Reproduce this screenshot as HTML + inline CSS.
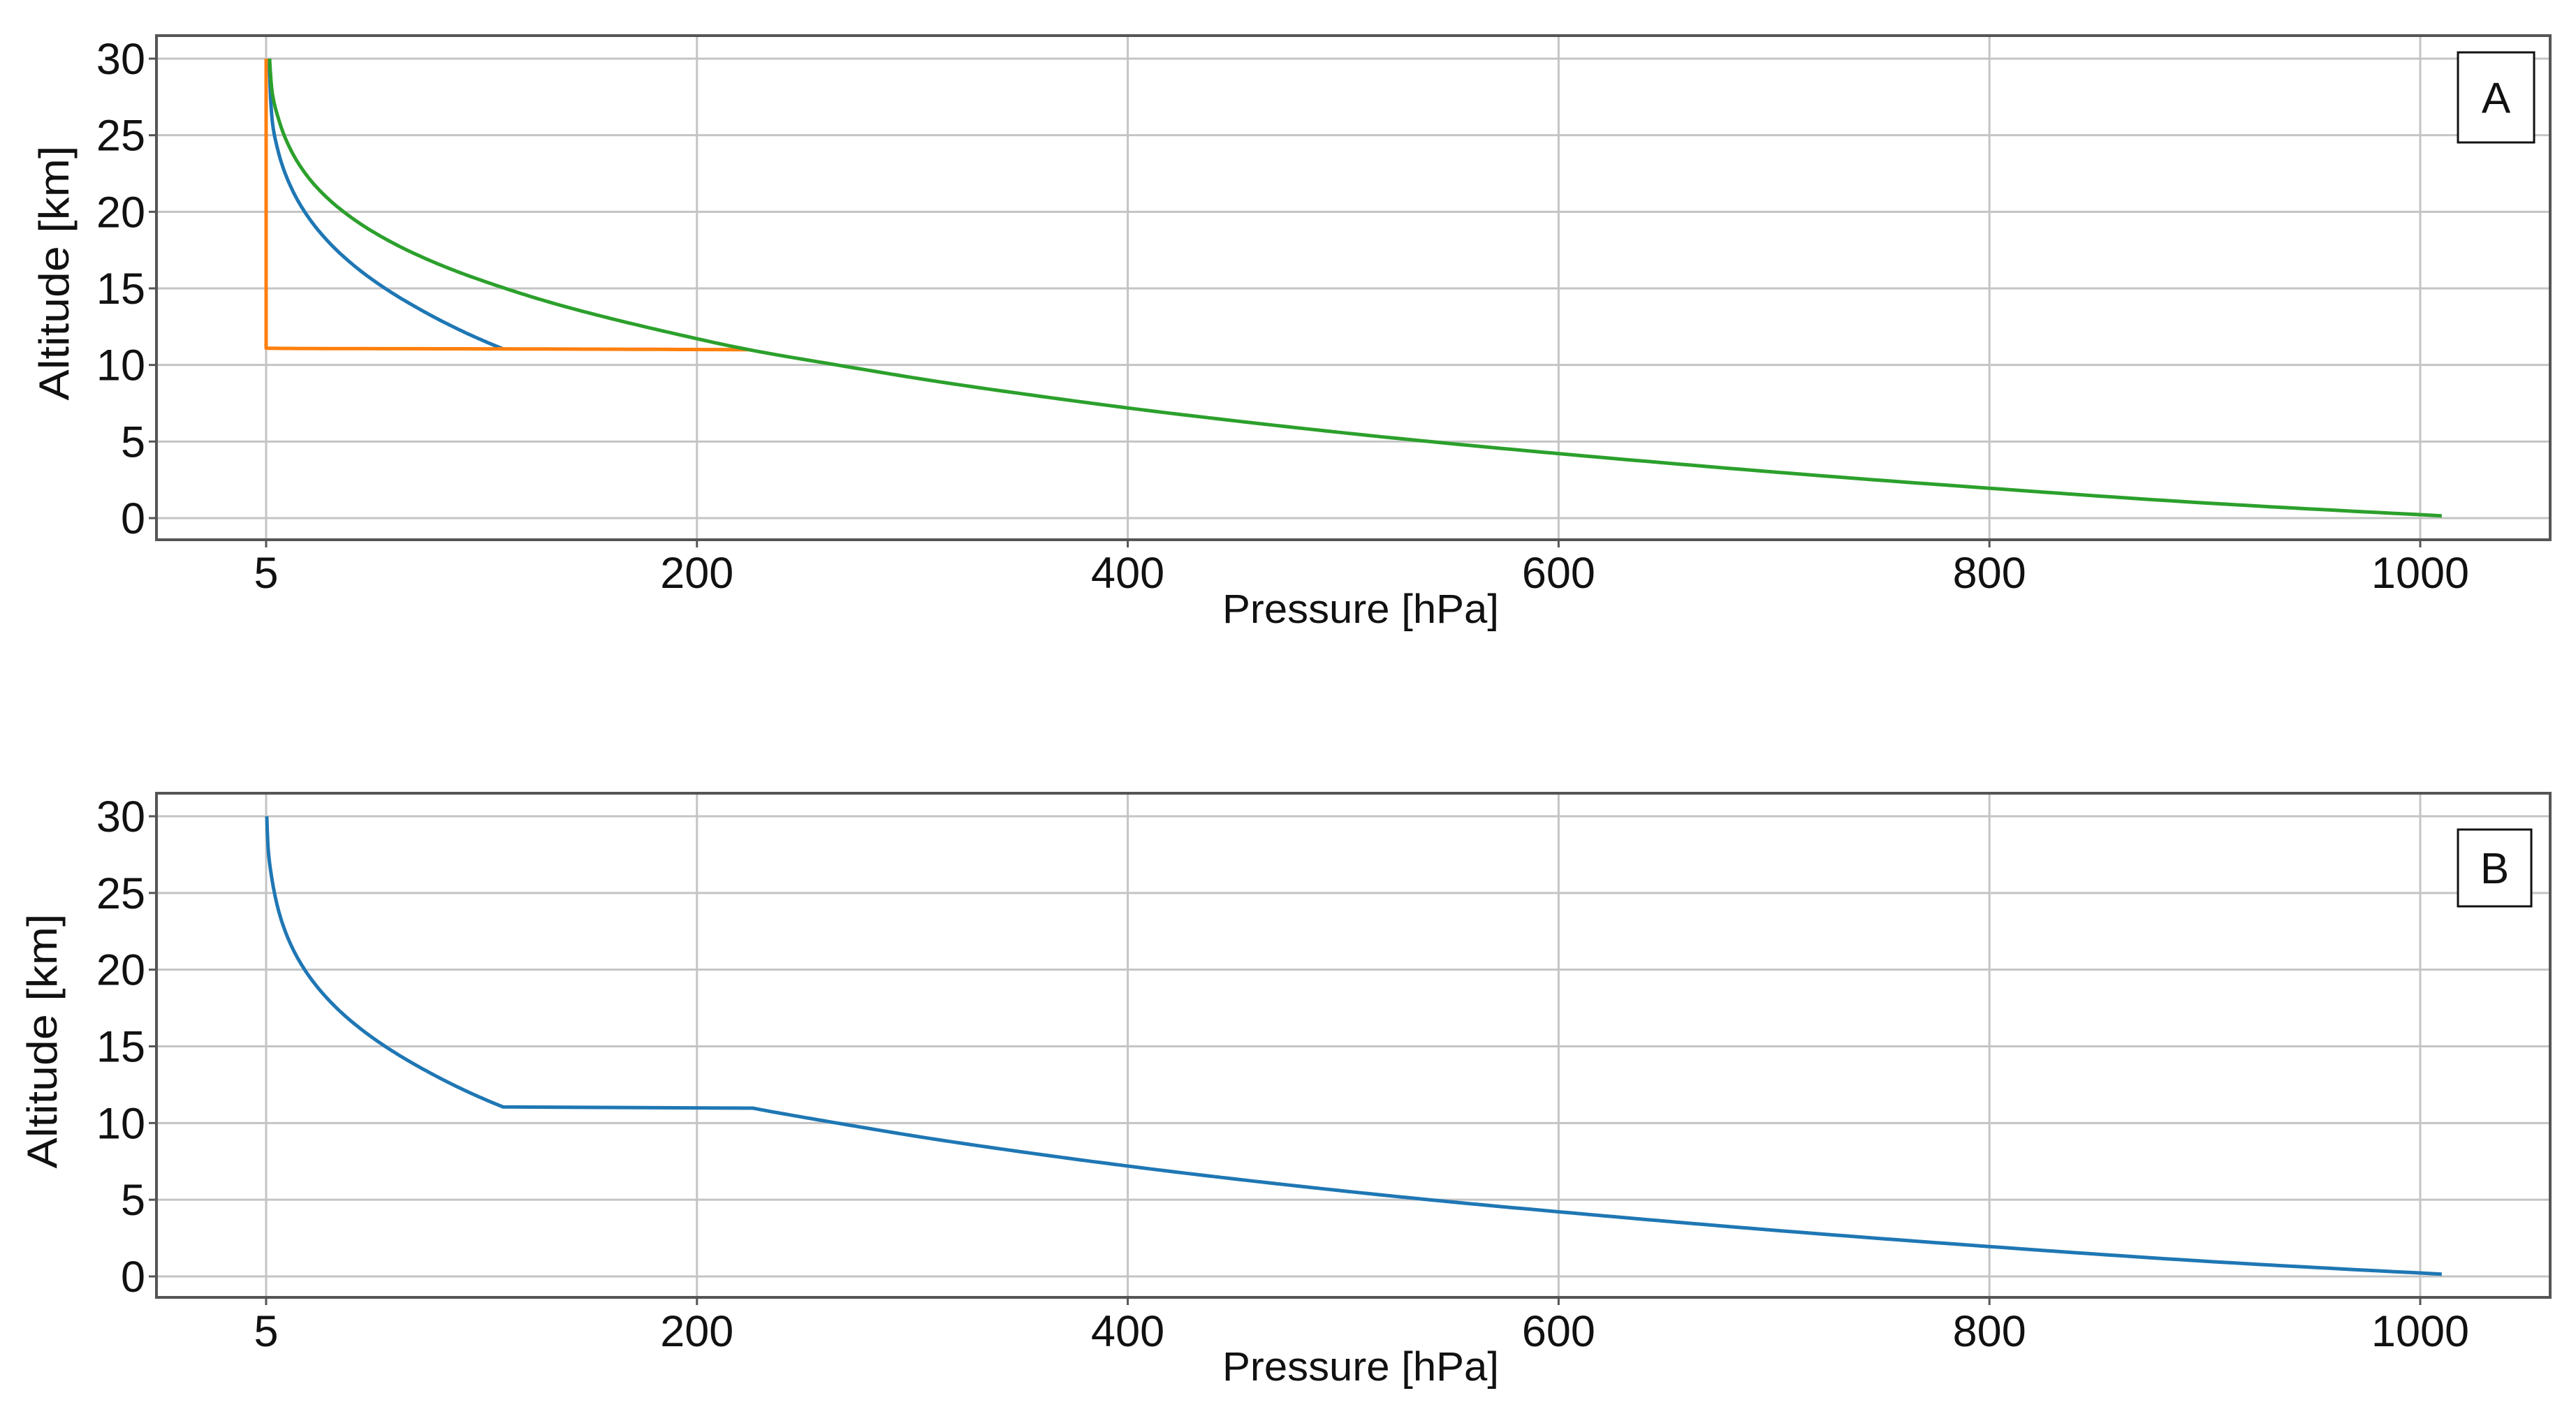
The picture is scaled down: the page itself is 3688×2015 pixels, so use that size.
<!DOCTYPE html>
<html><head><meta charset="utf-8">
<style>
html,body{margin:0;padding:0;background:#fff;}
svg{display:block;}
text{font-family:"Liberation Sans",sans-serif;fill:#111;}
</style></head>
<body>
<svg id="fig" width="3688" height="2015" viewBox="0 0 3688 2015" xmlns="http://www.w3.org/2000/svg"></svg>
<script>
// ---- data ----
const xTickValues = [0, 200, 400, 600, 800, 1000];
const xTickLabels = ["5", "200", "400", "600", "800", "1000"];
const yTickValues = [0, 5, 10, 15, 20, 25, 30];
const yTickLabels = ["0", "5", "10", "15", "20", "25", "30"];

// panel A series: pressure [hPa] and altitude [km]
const greenP = [1.6, 2.65, 5.9, 11.6, 21, 36, 58.4, 90.6, 111, 134, 161, 191, 224, 265, 308, 357, 411, 472, 540, 617, 701, 795, 899, 1010];
const greenZ = [30, 28, 26, 24, 22, 20, 18, 16, 15, 14, 13, 12, 11, 10, 9, 8, 7, 6, 5, 4, 3, 2, 1, 0.15];
const blueAP = [1.5, 1.9, 2.8, 5.5, 10.3, 17.9, 29.2, 45.2, 66.8, 79.7, 94.2, 110];
const blueAZ = [30, 28, 26, 24, 22, 20, 18, 16, 14, 13, 12, 11.05];
const orangeP = [0, 0, 110, 224];
const orangeZ = [30, 11.1, 11.05, 11.0];

// panel B series
const blueBP = [0.3, 0.9, 2.6, 5.5, 10.3, 17.9, 29.2, 45.2, 66.8, 79.7, 94.2, 110, 226, 265, 308, 357, 411, 472, 540, 617, 701, 795, 899, 1010];
const blueBZ = [30, 28, 26, 24, 22, 20, 18, 16, 14, 13, 12, 11.05, 10.97, 10, 9, 8, 7, 6, 5, 4, 3, 2, 1, 0.15];

const NS = "http://www.w3.org/2000/svg";
const svg = document.getElementById("fig");
function mk(tag, attrs, parent) {
  const e = document.createElementNS(NS, tag);
  for (const k in attrs) e.setAttribute(k, attrs[k]);
  (parent || svg).appendChild(e);
  return e;
}

// monotone cubic interpolation of ln(p+1) as a function of z within one piece
function interpPiece(P, Z) {
  const n = P.length;
  const L = P.map(p => Math.log(p + 1));
  if (n < 3) return [[P[0], Z[0]], [P[n - 1], Z[n - 1]]];
  const d = [], m = new Array(n).fill(0);
  for (let i = 0; i < n - 1; i++) d.push((L[i + 1] - L[i]) / (Z[i + 1] - Z[i]));
  m[0] = d[0]; m[n - 1] = d[n - 2];
  for (let i = 1; i < n - 1; i++) {
    if (d[i - 1] * d[i] <= 0) m[i] = 0;
    else {
      const h0 = Z[i] - Z[i - 1], h1 = Z[i + 1] - Z[i];
      const w1 = 2 * h1 + h0, w2 = h1 + 2 * h0;
      m[i] = (w1 + w2) / (w1 / d[i - 1] + w2 / d[i]);
    }
  }
  const out = [];
  for (let i = 0; i < n - 1; i++) {
    const h = Z[i + 1] - Z[i];
    const steps = 20;
    for (let s = 0; s < steps; s++) {
      const t = s / steps;
      const h00 = 2*t*t*t - 3*t*t + 1, h10 = t*t*t - 2*t*t + t, h01 = -2*t*t*t + 3*t*t, h11 = t*t*t - t*t;
      const l = h00 * L[i] + h10 * h * m[i] + h01 * L[i + 1] + h11 * h * m[i + 1];
      out.push([Math.exp(l) - 1, Z[i] + t * h]);
    }
  }
  out.push([P[n - 1], Z[n - 1]]);
  return out;
}
function densify(P, Z) {
  const pieces = [];
  let start = 0;
  for (let i = 1; i < P.length - 1; i++) {
    const dz1 = Math.abs(Z[i] - Z[i - 1]), dz2 = Math.abs(Z[i + 1] - Z[i]);
    const dp1 = Math.abs(P[i] - P[i - 1]), dp2 = Math.abs(P[i + 1] - P[i]);
    const flat1 = dz1 < 0.2, flat2 = dz2 < 0.2, vert1 = dp1 === 0, vert2 = dp2 === 0;
    if (flat1 !== flat2 || vert1 !== vert2) { pieces.push([start, i]); start = i; }
  }
  pieces.push([start, P.length - 1]);
  let out = [];
  pieces.forEach(([a, b]) => {
    const seg = interpPiece(P.slice(a, b + 1), Z.slice(a, b + 1));
    out = out.concat(out.length ? seg.slice(1) : seg);
  });
  return out;
}

const panels = [
  {id: "a", left: 224, right: 3651, top: 51, bottom: 773, y30: 84, y0: 742, ytitleX: 77, ytitleY: 391, xlabelBase: 842, xtitleBase: 892,
   box: [3519, 75, 109, 129], letter: "A",
   series: [["blue", blueAP, blueAZ, "#1f77b4"], ["orange", orangeP, orangeZ, "#ff7f0e"], ["green", greenP, greenZ, "#2ca02c"]]},
  {id: "b", left: 224, right: 3651, top: 1136, bottom: 1858, y30: 1169, y0: 1828, ytitleX: 60, ytitleY: 1491, xlabelBase: 1928, xtitleBase: 1977,
   box: [3519, 1188, 105, 110], letter: "B",
   series: [["blue", blueBP, blueBZ, "#1f77b4"]]}
];

panels.forEach(pn => {
  const g = mk("g", {});
  
  
  const xs = p => 381 + p * 3.084;
  const ys = z => pn.y0 + (pn.y30 - pn.y0) * z / 30;

  xTickValues.forEach((v, i) => {
    const l = mk("line", {x1: xs(v), x2: xs(v), y1: pn.top, y2: pn.bottom, stroke: "#c4c4c4", "stroke-width": 3}, g);
    
    
    const t = mk("line", {x1: xs(v), x2: xs(v), y1: pn.bottom, y2: pn.bottom + 11, stroke: "#555", "stroke-width": 3}, g);
    
    
    const tx = mk("text", {x: xs(v), y: pn.xlabelBase, "text-anchor": "middle", "font-size": 63}, g);
    tx.textContent = xTickLabels[i];
    
    
  });
  yTickValues.forEach((v, i) => {
    const l = mk("line", {x1: pn.left, x2: pn.right, y1: ys(v), y2: ys(v), stroke: "#c4c4c4", "stroke-width": 3}, g);
    
    
    const t = mk("line", {x1: pn.left - 11, x2: pn.left, y1: ys(v), y2: ys(v), stroke: "#555", "stroke-width": 3}, g);
    
    
    const tx = mk("text", {x: 208, y: ys(v) + 22, "text-anchor": "end", "font-size": 63}, g);
    tx.textContent = yTickLabels[i];
    
    
  });

  pn.series.forEach(s => {
    const pts = densify(s[1], s[2]).map(q => xs(q[0]).toFixed(1) + "," + ys(q[1]).toFixed(1)).join(" ");
    const pl = mk("polyline", {points: pts, fill: "none", stroke: s[3], "stroke-width": 5, "stroke-linejoin": "round"}, g);
    
    
  });

  const fr = mk("rect", {x: pn.left, y: pn.top, width: pn.right - pn.left, height: pn.bottom - pn.top, fill: "none", stroke: "#555", "stroke-width": 4}, g);
  
  

  const xt = mk("text", {x: 1948, y: pn.xtitleBase, "text-anchor": "middle", "font-size": 58, textLength: 396, lengthAdjust: "spacingAndGlyphs"}, g);
  xt.textContent = "Pressure [hPa]";
  
  
  const yt = mk("text", {x: 0, y: 0, "text-anchor": "middle", "font-size": 60, textLength: 365, lengthAdjust: "spacingAndGlyphs",
    transform: "translate(" + (pn.ytitleX + 21) + "," + pn.ytitleY + ") rotate(-90)"}, g);
  yt.textContent = "Altitude [km]";
  
  

  const b = pn.box;
  const bx = mk("rect", {x: b[0], y: b[1], width: b[2], height: b[3], fill: "#fff", stroke: "#111", "stroke-width": 3}, g);
  
  
  const lt = mk("text", {x: b[0] + b[2] / 2, y: b[1] + b[3] / 2 + 22, "text-anchor": "middle", "font-size": 62}, g);
  lt.textContent = pn.letter;
  
  
});
</script>
</body></html>
